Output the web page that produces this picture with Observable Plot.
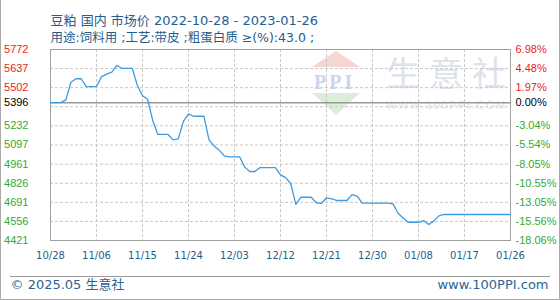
<!DOCTYPE html>
<html><head><meta charset="utf-8">
<script src="https://cdn.jsdelivr.net/npm/d3@7"></script>
<script src="https://cdn.jsdelivr.net/npm/@observablehq/plot@0.6"></script>
<style>html,body{margin:0;padding:0;background:#fff}#chart svg{display:block}</style>
</head><body><div id="chart"></div>
<script>
const titleLine1 = "豆粕 国内 市场价 2022-10-28 - 2023-01-26";
const titleLine2 = "用途:饲料用 ;工艺:带皮 ;粗蛋白质 ≥(%):43.0 ;";
const footerLeft = "© 2025.05 生意社";
const footerRight = "www.100PPI.com";

const startDate = "2022-10-28";
const endDate = "2023-01-26";
const prices = [
  5396, 5396, 5396, 5416, 5540, 5565, 5565, 5510, 5510, 5510,
  5580, 5598, 5612, 5659, 5638, 5638, 5638, 5517, 5445, 5420,
  5270, 5171, 5171, 5171, 5133, 5140, 5264, 5317, 5300, 5300,
  5300, 5135, 5090, 5060, 5020, 5013, 5013, 5013, 4940, 4909,
  4909, 4937, 4937, 4937, 4937, 4885, 4866, 4824, 4676, 4727,
  4727, 4727, 4688, 4683, 4723, 4715, 4704, 4704, 4704, 4746,
  4735, 4685, 4685, 4685, 4685, 4685, 4685, 4680, 4614, 4580,
  4550, 4550, 4550, 4562, 4534, 4560, 4595, 4605, 4605, 4605,
  4605, 4605, 4605, 4605, 4605, 4605, 4605, 4605, 4605, 4605,
  4605
];
const baseValue = 5396;
const xTickDates = ["2022-10-28","2022-11-06","2022-11-15","2022-11-24","2022-12-03","2022-12-12","2022-12-21","2022-12-30","2023-01-08","2023-01-17","2023-01-26"];
const xTickLabels = ["10/28","11/06","11/15","11/24","12/03","12/12","12/21","12/30","01/08","01/17","01/26"];
const yTickValues = [5772, 5637, 5502, 5396, 5232, 5097, 4961, 4826, 4691, 4556, 4421];
const yPctLabels = ["6.98%","4.48%","1.97%","0.00%","-3.04%","-5.54%","-8.05%","-10.55%","-13.05%","-15.56%","-18.06%"];
const yGridValues = [5637, 5502, 5367, 5232, 5097, 4961, 4826, 4691, 4556];

const start = new Date(startDate);
const data = prices.map((v, i) => ({date: d3.utcDay.offset(start, i), value: v}));
const yTicks = yTickValues.map((v, i) => ({
  v, label: String(v), pct: yPctLabels[i],
  color: v > baseValue ? "#ee1c1c" : v < baseValue ? "#33aa33" : "#000000"
}));
const xTicks = xTickDates.map((d, i) => ({date: new Date(d), label: xTickLabels[i]}));

const chart = Plot.plot({
  width: 560, height: 300,
  marginLeft: 50, marginRight: 50, marginTop: 49, marginBottom: 60,
  style: {fontFamily: "'Liberation Sans', Arial, sans-serif", background: "#fff", overflow: "visible"},
  x: {type: "utc", domain: [new Date(startDate), new Date(endDate)], axis: null},
  y: {domain: [4421, 5772], axis: null},
  color: {type: "identity"},
  marks: [
    Plot.ruleY(yGridValues, {stroke: "#c8c8c8", strokeDasharray: "3,2"}),
    Plot.ruleX(xTicks.slice(1, -1), {x: "date", stroke: "#c8c8c8", strokeDasharray: "3,2"}),
    Plot.ruleY([baseValue], {stroke: "#999", strokeWidth: 1.5}),
    Plot.frame({stroke: "#a0a0a0"}),
    Plot.line(data, {x: "date", y: "value", stroke: "#3d9be0", strokeWidth: 1.3}),
    Plot.text(yTicks, {y: "v", text: "label", frameAnchor: "left", textAnchor: "end", dx: -22, fill: "color", fontSize: 11}),
    Plot.text(yTicks, {y: "v", text: "pct", frameAnchor: "right", textAnchor: "start", dx: 5, fill: "color", fontSize: 11}),
    Plot.text(xTicks, {x: "date", text: "label", frameAnchor: "bottom", dy: 18, fill: "#1d5f8f", fontSize: 10, fontFamily: "'DejaVu Sans', sans-serif"}),
    Plot.text([titleLine1], {frameAnchor: "top-left", textAnchor: "start", dy: -34, fill: "#1f5e8e", fontSize: 13, fontFamily: "'DejaVu Sans', 'Noto Sans CJK SC', sans-serif"}),
    Plot.text([titleLine2], {frameAnchor: "top-left", textAnchor: "start", dy: -16, fill: "#1f5e8e", fontSize: 12.5, fontFamily: "'DejaVu Sans', 'Noto Sans CJK SC', sans-serif"}),
    Plot.text([footerLeft], {frameAnchor: "bottom-left", textAnchor: "start", dx: -40, dy: 48, fill: "#2a6496", fontSize: 13, fontFamily: "'DejaVu Sans', 'Noto Sans CJK SC', sans-serif"}),
    Plot.text([footerRight], {frameAnchor: "bottom-right", textAnchor: "end", dx: 38, dy: 48, fill: "#2a6496", fontSize: 13, fontFamily: "'DejaVu Sans', sans-serif"})
  ]
});

const svg = d3.select(chart);
// watermark logo behind marks
const logo = svg.insert("g", "g").attr("text-anchor", "start");
logo.append("polygon").attr("points", "336,51 312,67 360,67").attr("fill", "#f6d6d2");
logo.append("text").attr("x", 314).attr("y", 89).attr("text-anchor", "start")
  .style("font-family", "'Liberation Serif', serif").style("font-weight", "bold").style("font-size", "20px")
  .style("letter-spacing", "3px").attr("fill", "#cdd6e8").text("PPI");
logo.append("polygon").attr("points", "312,93 360,93 336,115").attr("fill", "#daeed8");
logo.append("text").attr("x", 386).attr("y", 86).attr("text-anchor", "start")
  .style("font-family", "'Noto Sans CJK SC', sans-serif").style("font-size", "34px")
  .style("letter-spacing", "9px").attr("fill", "#dde2ec").text("生意社");
logo.append("text").attr("x", 386).attr("y", 109).attr("text-anchor", "start")
  .style("font-family", "'Liberation Sans', sans-serif").style("font-size", "11px")
  .style("letter-spacing", "1.6px").attr("fill", "#e4e4e4").text("WWW.100PPI.COM");
// outer border and footer separator
svg.append("path").attr("d", "M0.5,0V299.5H559.5V0").attr("fill", "none").attr("stroke", "#aaa");
svg.append("line").attr("x1", 10).attr("x2", 550).attr("y1", 276.5).attr("y2", 276.5).attr("stroke", "#999");

document.getElementById("chart").appendChild(chart);
</script>
</body></html>
